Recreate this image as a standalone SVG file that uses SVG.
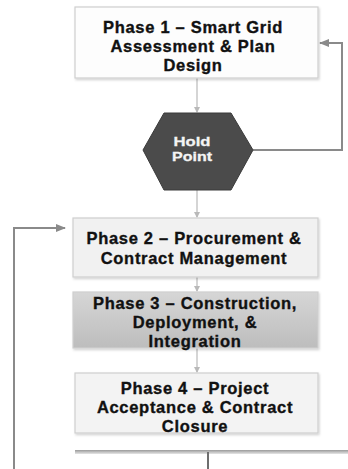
<svg xmlns="http://www.w3.org/2000/svg" width="348" height="469" viewBox="0 0 348 469">
  <defs>
    <style>
      .box { stroke: #cfcfcf; stroke-width: 1.2; }
      .label { font-family: "Liberation Sans", Arial, sans-serif; font-weight: 700; font-size: 16.5px; fill: #111; stroke: #111; stroke-width: 0.35px; text-anchor: middle; letter-spacing: 0.7px; }
      .hold { font-family: "Liberation Sans", Arial, sans-serif; font-weight: 700; font-size: 13.5px; fill: #f4f4f4; stroke: #f4f4f4; stroke-width: 0.3px; text-anchor: middle; }
      .flow { stroke: #b9b9b9; stroke-width: 1.2; fill: none; }
      .loop { stroke: #8a8a8a; stroke-width: 2; fill: none; }
    </style>
    <linearGradient id="phase3Fill" x1="0" y1="0" x2="0" y2="1">
      <stop offset="0" stop-color="#d6d6d6"/>
      <stop offset="1" stop-color="#bdbdbd"/>
    </linearGradient>
    <linearGradient id="barFill" x1="0" y1="0" x2="0" y2="1">
      <stop offset="0" stop-color="#9a9a9a"/>
      <stop offset="1" stop-color="#e6e6e6"/>
    </linearGradient>
    <filter id="shadow" x="-5%" y="-5%" width="110%" height="120%">
      <feDropShadow dx="1" dy="1.5" stdDeviation="0.8" flood-color="#000" flood-opacity="0.18"/>
    </filter>
    <marker id="arrowSmall" markerWidth="6" markerHeight="6" refX="5" refY="3" orient="auto" markerUnits="userSpaceOnUse">
      <path d="M0,0 L6,3 L0,6 z" fill="#b9b9b9"/>
    </marker>
    <marker id="arrowLoop" markerWidth="10" markerHeight="10" refX="9" refY="5" orient="auto" markerUnits="userSpaceOnUse">
      <path d="M0,1 L10,5 L0,9 z" fill="#8a8a8a"/>
    </marker>
  </defs>

  <rect x="0" y="0" width="348" height="469" fill="#ffffff"/>

  <!-- connectors -->
  <g id="connectors">
    <line class="flow" x1="197" y1="78" x2="197" y2="112" marker-end="url(#arrowSmall)"/>
    <line class="flow" x1="197" y1="190" x2="197" y2="217" marker-end="url(#arrowSmall)"/>
    <line class="flow" x1="197" y1="277" x2="197" y2="291" marker-end="url(#arrowSmall)"/>
    <line class="flow" x1="197" y1="348" x2="197" y2="372" marker-end="url(#arrowSmall)"/>
    <!-- return from the hold point to phase 1 -->
    <polyline class="loop" points="253,150 342,150 342,43 320,43" marker-end="url(#arrowLoop)"/>
    <!-- return loop into phase 2 -->
    <polyline class="loop" points="14,469 14,228 65,228" marker-end="url(#arrowLoop)"/>
    <!-- outgoing line below phase 4 -->
    <rect x="75" y="450" width="273" height="4" fill="url(#barFill)"/>
    <line x1="208" y1="452" x2="208" y2="469" stroke="#6e6e6e" stroke-width="2"/>
  </g>

  <g id="phase1">
    <rect class="box" x="75" y="7" width="243" height="71" fill="#fdfdfd" filter="url(#shadow)"/>
    <text class="label" x="193" y="33">Phase 1 – Smart Grid</text>
    <text class="label" x="193" y="52">Assessment &amp; Plan</text>
    <text class="label" x="193" y="71">Design</text>
  </g>

  <g id="hold-point">
    <polygon points="164,113 231,113 253,150 231,190 164,190 143,150" fill="#4b4b4b" stroke="#3a3a3a" stroke-width="1"/>
    <text class="hold" x="192" y="146" textLength="37" lengthAdjust="spacingAndGlyphs">Hold</text>
    <text class="hold" x="192" y="161" textLength="40" lengthAdjust="spacingAndGlyphs">Point</text>
  </g>

  <g id="phase2">
    <rect class="box" x="73" y="218" width="245" height="59" fill="#f1f1f1" filter="url(#shadow)"/>
    <text class="label" x="194" y="244">Phase 2 – Procurement &amp;</text>
    <text class="label" x="194" y="264">Contract Management</text>
  </g>

  <g id="phase3">
    <rect class="box" x="73" y="292" width="245" height="56" fill="url(#phase3Fill)" filter="url(#shadow)"/>
    <text class="label" x="195" y="309">Phase 3 – Construction,</text>
    <text class="label" x="195" y="328">Deployment, &amp;</text>
    <text class="label" x="195" y="347">Integration</text>
  </g>

  <g id="phase4">
    <rect class="box" x="75" y="373" width="243" height="60" fill="#f3f3f3" filter="url(#shadow)"/>
    <text class="label" x="195" y="394">Phase 4 – Project</text>
    <text class="label" x="195" y="413">Acceptance &amp; Contract</text>
    <text class="label" x="195" y="432">Closure</text>
  </g>
</svg>
